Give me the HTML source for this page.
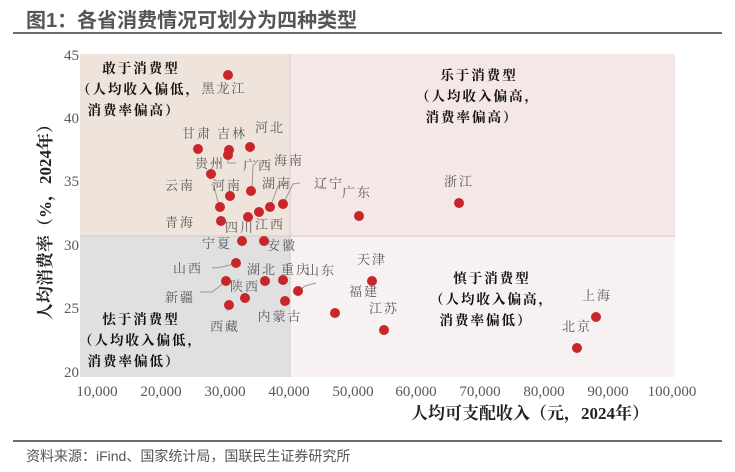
<!DOCTYPE html>
<html><head><meta charset="utf-8"><style>
body{margin:0;background:#fff;width:735px;height:472px;overflow:hidden}
svg{display:block}
.t{font-family:"Liberation Serif","Noto Serif CJK SC",serif;font-size:15px;fill:#595959}
.l{font-family:"Liberation Serif","Noto Serif CJK SC",serif;font-size:13px;fill:#595959;text-anchor:middle;letter-spacing:2px}
.q{font-family:"Liberation Serif","Noto Serif CJK SC",serif;font-size:13.5px;font-weight:bold;fill:#111;text-anchor:middle;letter-spacing:2px}
.a{font-family:"Liberation Serif","Noto Serif CJK SC",serif;font-size:17px;font-weight:bold;fill:#222}
</style></head><body>
<svg width="735" height="472" xmlns="http://www.w3.org/2000/svg">
<text x="26" y="27" style="font-family:'Liberation Sans','Noto Sans CJK SC',sans-serif;font-size:20px;font-weight:bold;fill:#555">图1：各省消费情况可划分为四种类型</text>
<rect x="13" y="32" width="709" height="2" fill="#6b6b6b"/>
<rect x="80" y="54" width="210" height="182" fill="#efe4dc"/>
<rect x="290" y="54" width="385" height="182" fill="#f5e6e7"/>
<rect x="80" y="236" width="210" height="141" fill="#e1e0e0"/>
<rect x="290" y="236" width="385" height="141" fill="#f7f2f1"/>
<line x1="80" y1="236" x2="675" y2="236" stroke="#d5c9c9" stroke-width="1"/>
<line x1="290" y1="54" x2="290" y2="377" stroke="#d0cccc" stroke-width="1"/>
<g class="t" text-anchor="end">
<text x="79" y="60">45</text><text x="79" y="123">40</text><text x="79" y="186">35</text><text x="79" y="250">30</text><text x="79" y="313">25</text><text x="79" y="377">20</text>
</g>
<g class="t" text-anchor="middle">
<text x="97" y="396">10,000</text><text x="161" y="396">20,000</text><text x="225" y="396">30,000</text><text x="289" y="396">40,000</text><text x="353" y="396">50,000</text><text x="416" y="396">60,000</text><text x="480" y="396">70,000</text><text x="544" y="396">80,000</text><text x="608" y="396">90,000</text><text x="672" y="396">100,000</text>
</g>
<text class="a" x="530" y="419" text-anchor="middle">人均可支配收入（元，2024年）</text>
<text class="a" transform="translate(51,218) rotate(-90)" text-anchor="middle">人均消费率（%，2024年）</text>
<g class="q">
<text x="141" y="73">敢于消费型</text><text x="139" y="94">（人均收入偏低，</text><text x="134" y="115">消费率偏高）</text>
<text x="479" y="80">乐于消费型</text><text x="478" y="101">（人均收入偏高，</text><text x="472" y="122">消费率偏高）</text>
<text x="492" y="283">慎于消费型</text><text x="492" y="304">（人均收入偏高，</text><text x="486" y="325">消费率偏低）</text>
<text x="141" y="324">怯于消费型</text><text x="141" y="345">（人均收入偏低，</text><text x="134" y="366">消费率偏低）</text>
</g>
<g stroke="#999" stroke-width="1" fill="none">
<polyline points="228,158 228,163 236,163"/>
<polyline points="258,160 253,166 252,189"/>
<polyline points="211,184 214,186 218,202"/>
<polyline points="288,183 278,186 271,205"/>
<polyline points="300,183 293,184 284,202"/>
<polyline points="212,268 222,267 234,264"/>
<polyline points="200,292 212,292 224,283"/>
<polyline points="316,283 305,286 299,291"/>
<polyline points="229,305 227,311"/>
</g>
<g fill="#c8262a">
<circle cx="228" cy="75" r="5"/><circle cx="198" cy="149" r="5"/><circle cx="229" cy="150" r="5"/><circle cx="228" cy="155" r="5"/><circle cx="250" cy="147" r="5"/>
<circle cx="211" cy="174" r="5"/><circle cx="220" cy="207" r="5"/><circle cx="230" cy="196" r="5"/><circle cx="251" cy="191" r="5"/><circle cx="270" cy="207" r="5"/>
<circle cx="283" cy="204" r="5"/><circle cx="221" cy="221" r="5"/><circle cx="248" cy="217" r="5"/><circle cx="259" cy="212" r="5"/>
<circle cx="242" cy="241" r="5"/><circle cx="264" cy="241" r="5"/><circle cx="236" cy="263" r="5"/><circle cx="226" cy="281" r="5"/><circle cx="245" cy="298" r="5"/>
<circle cx="229" cy="305" r="5"/><circle cx="265" cy="281" r="5"/><circle cx="283" cy="280" r="5"/><circle cx="285" cy="301" r="5"/><circle cx="298" cy="291" r="5"/>
<circle cx="335" cy="313" r="5"/><circle cx="372" cy="281" r="5"/><circle cx="384" cy="330" r="5"/><circle cx="359" cy="216" r="5"/><circle cx="459" cy="203" r="5"/>
<circle cx="596" cy="317" r="5"/><circle cx="577" cy="348" r="5"/>
</g>
<g class="l">
<text x="224" y="93">黑龙江</text><text x="197" y="138">甘肃</text><text x="232" y="138">吉林</text><text x="270" y="132">河北</text>
<text x="210" y="168">贵州</text><text x="258" y="170">广西</text><text x="289" y="165">海南</text><text x="180" y="190">云南</text><text x="227" y="190">河南</text>
<text x="277" y="188">湖南</text><text x="329" y="188">辽宁</text><text x="357" y="197">广东</text><text x="180" y="227">青海</text><text x="240" y="232">四川</text><text x="270" y="229">江西</text>
<text x="217" y="248">宁夏</text><text x="282" y="250">安徽</text><text x="188" y="273">山西</text><text x="262" y="274">湖北</text><text x="296" y="274">重庆</text><text x="321" y="275">山东</text>
<text x="180" y="302">新疆</text><text x="245" y="291">陕西</text><text x="364" y="296">福建</text><text x="225" y="331">西藏</text><text x="280" y="321">内蒙古</text>
<text x="372" y="264">天津</text><text x="384" y="313">江苏</text><text x="459" y="186">浙江</text><text x="597" y="300">上海</text><text x="577" y="331">北京</text>
</g>
<rect x="13" y="440" width="709" height="2" fill="#6b6b6b"/>
<text x="26" y="461" style="font-family:'Liberation Sans','Noto Sans CJK SC',sans-serif;font-size:14px;fill:#555">资料来源：iFind、国家统计局，国联民生证券研究所</text>
</svg>
</body></html>
